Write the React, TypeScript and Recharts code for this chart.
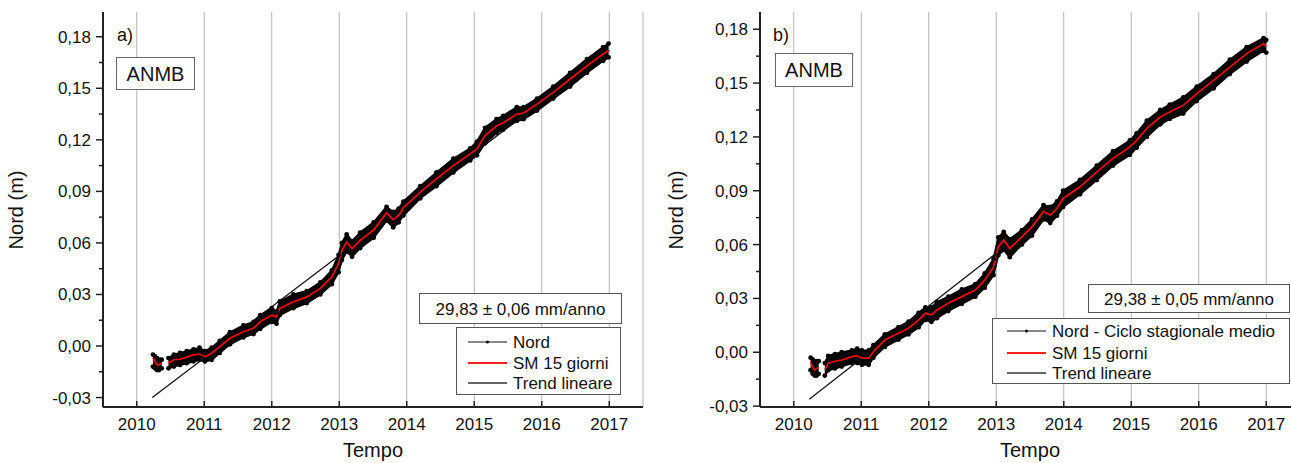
import { ComposedChart, Line, Area, Scatter, XAxis, YAxis, CartesianGrid } from 'recharts'

const yearTicks = [2010, 2011, 2012, 2013, 2014, 2015, 2016, 2017]
const valueTicks = [-0.03, -0.015, 0, 0.015, 0.03, 0.045, 0.06, 0.075, 0.09, 0.105, 0.12, 0.135, 0.15, 0.165, 0.18]

// panel a) - Nord
const yearsA = [2010.24, 2010.27, 2010.30, 2010.33, 2010.37, 2010.42, 2010.47, 2010.55, 2010.64, 2010.74, 2010.84, 2010.93, 2011.01, 2011.11, 2011.23, 2011.38, 2011.58, 2011.73, 2011.83, 2012.00, 2012.07, 2012.12, 2012.32, 2012.52, 2012.72, 2012.89, 2012.99, 2013.04, 2013.11, 2013.19, 2013.31, 2013.51, 2013.70, 2013.80, 2013.88, 2013.95, 2014.20, 2014.44, 2014.69, 2014.94, 2015.04, 2015.16, 2015.33, 2015.43, 2015.63, 2015.73, 2015.93, 2016.17, 2016.42, 2016.67, 2016.91, 2016.99]
const smA = [-0.007, -0.009, -0.011, -0.011, -0.010, null, -0.010, -0.008, -0.0077, -0.0065, -0.0052, -0.0047, -0.0062, -0.0042, -0.0004, 0.0045, 0.0083, 0.0103, 0.0141, 0.018, 0.017, 0.0219, 0.0257, 0.0286, 0.0335, 0.0402, 0.048, 0.0557, 0.0605, 0.0567, 0.0615, 0.0675, 0.0775, 0.0735, 0.076, 0.0805, 0.0896, 0.0973, 0.105, 0.1118, 0.1147, 0.1225, 0.128, 0.130, 0.135, 0.1356, 0.1408, 0.1476, 0.1554, 0.163, 0.170, 0.1718]
const loA = [-0.012, -0.013, -0.014, -0.014, -0.013, null, -0.013, -0.012, -0.011, -0.010, -0.009, -0.008, -0.009, -0.008, -0.004, 0.001, 0.005, 0.007, 0.010, 0.014, 0.013, 0.018, 0.022, 0.025, 0.030, 0.036, 0.043, 0.050, 0.055, 0.052, 0.057, 0.063, 0.073, 0.069, 0.072, 0.076, 0.086, 0.093, 0.101, 0.108, 0.111, 0.118, 0.124, 0.126, 0.131, 0.132, 0.137, 0.144, 0.151, 0.159, 0.166, 0.168]
const hiA = [-0.005, -0.006, -0.007, -0.008, -0.008, null, -0.007, -0.005, -0.004, -0.003, -0.002, -0.001, -0.003, -0.001, 0.003, 0.008, 0.012, 0.014, 0.018, 0.022, 0.020, 0.026, 0.030, 0.032, 0.037, 0.044, 0.053, 0.060, 0.065, 0.061, 0.066, 0.072, 0.081, 0.078, 0.080, 0.084, 0.093, 0.101, 0.109, 0.115, 0.119, 0.127, 0.132, 0.134, 0.139, 0.139, 0.144, 0.151, 0.159, 0.167, 0.174, 0.176]
const trendYearsA = [2010.23, 2017.0]
const trendA = [-0.030, 0.172]

// panel b) - Nord - ciclo stagionale medio
const yearsB = [2010.25, 2010.28, 2010.31, 2010.34, 2010.37, 2010.42, 2010.46, 2010.51, 2010.61, 2010.71, 2010.86, 2010.94, 2011.01, 2011.11, 2011.18, 2011.35, 2011.55, 2011.70, 2011.85, 2011.95, 2012.04, 2012.12, 2012.29, 2012.49, 2012.69, 2012.83, 2012.96, 2013.03, 2013.11, 2013.20, 2013.38, 2013.53, 2013.70, 2013.80, 2013.90, 2013.99, 2014.24, 2014.49, 2014.73, 2014.98, 2015.08, 2015.23, 2015.43, 2015.57, 2015.77, 2015.97, 2016.22, 2016.46, 2016.71, 2016.96, 2017.00]
const smB = [-0.0055, -0.0085, -0.0098, -0.009, -0.0085, null, -0.0098, -0.0061, -0.005, -0.0043, -0.0024, -0.002, -0.0033, -0.0033, 0.0003, 0.0068, 0.0106, 0.0134, 0.018, 0.0217, 0.0208, 0.0235, 0.0273, 0.031, 0.0347, 0.0402, 0.0476, 0.0588, 0.0625, 0.0579, 0.0643, 0.0699, 0.0785, 0.0764, 0.0801, 0.0857, 0.0922, 0.1005, 0.108, 0.1144, 0.1181, 0.1247, 0.1311, 0.1339, 0.1376, 0.1441, 0.1515, 0.1589, 0.1664, 0.172, 0.1705]
const loB = [-0.010, -0.012, -0.013, -0.013, -0.012, null, -0.013, -0.010, -0.009, -0.008, -0.006, -0.006, -0.007, -0.007, -0.003, 0.003, 0.007, 0.010, 0.014, 0.018, 0.017, 0.019, 0.023, 0.027, 0.031, 0.036, 0.043, 0.054, 0.057, 0.053, 0.060, 0.065, 0.074, 0.072, 0.076, 0.081, 0.088, 0.096, 0.104, 0.110, 0.114, 0.120, 0.127, 0.130, 0.133, 0.140, 0.147, 0.155, 0.162, 0.168, 0.167]
const hiB = [-0.003, -0.004, -0.006, -0.005, -0.005, null, -0.006, -0.002, -0.001, 0.000, 0.001, 0.002, 0.001, 0.001, 0.004, 0.010, 0.014, 0.017, 0.022, 0.025, 0.025, 0.028, 0.031, 0.035, 0.038, 0.044, 0.052, 0.064, 0.067, 0.063, 0.068, 0.074, 0.082, 0.081, 0.084, 0.090, 0.096, 0.104, 0.112, 0.118, 0.122, 0.129, 0.135, 0.138, 0.142, 0.148, 0.155, 0.163, 0.170, 0.175, 0.174]
const trendYearsB = [2010.23, 2017.0]
const trendB = [-0.0262, 0.1727]

const fmt = (v: number) => v.toFixed(2).replace('.', ',')
const FONT = '"Liberation Sans", Arial, sans-serif'
const AXIS = '#222'

function LeftTick(props: any) {
  const { x, y, payload } = props
  const v = payload.value
  const major = Math.round(v * 1000) % 30 === 0
  return (
    <g>
      <line x1={x - (major ? 7 : 4)} x2={x} y1={y} y2={y} stroke={AXIS} strokeWidth={1.5} />
      {major && (
        <text x={x - 12} y={y + 6} textAnchor="end" fontSize={17} fontFamily={FONT} fill="#111">
          {fmt(v)}
        </text>
      )}
    </g>
  )
}

function BottomTick(props: any) {
  const { x, y, payload } = props
  return (
    <g>
      <line x1={x} x2={x} y1={y - 6} y2={y} stroke={AXIS} strokeWidth={1.5} />
      <text x={x} y={y + 23} textAnchor="middle" fontSize={17} fontFamily={FONT} fill="#111">
        {payload.value}
      </text>
    </g>
  )
}

interface PanelProps {
  left: number
  width: number
  yAxisWidth: number
  marginRight: number
  yDomain: [number, number]
  years: number[]
  sm: (number | null)[]
  lo: (number | null)[]
  hi: (number | null)[]
  trendYears: number[]
  trend: number[]
}

function Panel(p: PanelProps) {
  const rows = p.years.map((year, i) => ({
    year,
    sm: p.sm[i],
    band: p.lo[i] == null ? null : [p.lo[i], p.hi[i]],
  }))
  // the black scatter edges of the daily series
  const edgePoints = p.years.flatMap((year, i) =>
    p.lo[i] == null ? [] : [{ year, v: p.lo[i] }, { year, v: p.hi[i] }]
  )
  const trendRows = p.trendYears.map((year, i) => ({ year, trend: p.trend[i] }))
  const xDomain: [number, number] = [2009.5, 2017.5]

  return (
    <div style={{ position: 'absolute', left: p.left, top: 0 }}>
      <ComposedChart width={p.width} height={463} data={rows} margin={{ top: 12, right: p.marginRight, bottom: 0, left: 0 }}>
        <CartesianGrid horizontal={false} stroke="#b4b4b4" strokeWidth={1} />
        <XAxis
          dataKey="year"
          type="number"
          domain={xDomain}
          ticks={yearTicks}
          interval={0}
          allowDataOverflow
          height={56}
          tickSize={0}
          tickMargin={0}
          tickLine={false}
          axisLine={{ stroke: AXIS, strokeWidth: 2 }}
          tick={BottomTick}
        />
        <XAxis
          xAxisId="top"
          orientation="top"
          type="number"
          domain={xDomain}
          ticks={yearTicks}
          interval={0}
          allowDataOverflow
          height={0}
          mirror
          tickSize={6}
          tickFormatter={() => ''}
          tickLine={{ stroke: AXIS, strokeWidth: 1.5 }}
          axisLine={{ stroke: AXIS, strokeWidth: 2 }}
        />
        <YAxis
          type="number"
          domain={p.yDomain}
          ticks={valueTicks}
          interval={0}
          allowDataOverflow
          width={p.yAxisWidth}
          tickSize={0}
          tickMargin={0}
          tickLine={false}
          axisLine={{ stroke: AXIS, strokeWidth: 2 }}
          tick={LeftTick}
        />
        <YAxis
          yAxisId="right"
          orientation="right"
          type="number"
          domain={p.yDomain}
          ticks={valueTicks}
          interval={0}
          allowDataOverflow
          width={0}
          mirror
          tickSize={5}
          tickFormatter={() => ''}
          tickLine={{ stroke: AXIS, strokeWidth: 1.5 }}
          axisLine={{ stroke: AXIS, strokeWidth: 2 }}
        />
        <Line data={trendRows} dataKey="trend" stroke="#111" strokeWidth={1.3} dot={false} isAnimationActive={false} />
        <Area dataKey="band" stroke="#000" strokeWidth={2} fill="#000" fillOpacity={1} isAnimationActive={false} />
        <Scatter data={edgePoints} dataKey="v" fill="#000" shape={(s: any) => <circle cx={s.cx} cy={s.cy} r={2.4} fill="#000" />} isAnimationActive={false} />
        <Line dataKey="sm" stroke="#ff0000" strokeWidth={1.7} dot={false} isAnimationActive={false} />
      </ComposedChart>
    </div>
  )
}

function LegendRows({ x, ys, texts }: { x: number; ys: number[]; texts: string[] }) {
  return (
    <g fontFamily={FONT} fontSize={17} fill="#111">
      <line x1={x} x2={x + 39} y1={ys[0]} y2={ys[0]} stroke="#111" strokeWidth={1} />
      <circle cx={x + 19.5} cy={ys[0]} r={1.6} fill="#111" />
      <line x1={x} x2={x + 39} y1={ys[1]} y2={ys[1]} stroke="#ff2020" strokeWidth={2} />
      <line x1={x} x2={x + 39} y1={ys[2]} y2={ys[2]} stroke="#333" strokeWidth={1.6} />
      {texts.map((t, i) => (
        <text key={t} x={x + 45} y={ys[i] + 6}>{t}</text>
      ))}
    </g>
  )
}

export default function App() {
  return (
    <div style={{ position: 'absolute', left: 0, top: 0, width: 1291, height: 463, overflow: 'hidden', background: '#fff', fontFamily: FONT }}>
      <Panel left={0} width={660} yAxisWidth={103} marginRight={17} yDomain={[-0.0355, 0.1944]}
        years={yearsA} sm={smA} lo={loA} hi={hiA} trendYears={trendYearsA} trend={trendA} />
      <Panel left={680} width={640} yAxisWidth={80} marginRight={20} yDomain={[-0.0305, 0.1896]}
        years={yearsB} sm={smB} lo={loB} hi={hiB} trendYears={trendYearsB} trend={trendB} />

      <svg width={1291} height={463} style={{ position: 'absolute', left: 0, top: 0, pointerEvents: 'none' }}>
        <g fontFamily={FONT} fill="#111">
          {/* panel a */}
          <text x={117} y={41} fontSize={18}>a)</text>
          <rect x={116.5} y={57.5} width={78} height={32} fill="#fff" stroke="#666" />
          <text x={155.5} y={80.5} fontSize={20} textAnchor="middle">ANMB</text>
          <text transform="translate(23,210) rotate(-90)" fontSize={20} textAnchor="middle">Nord (m)</text>
          <text x={373} y={457} fontSize={20} textAnchor="middle">Tempo</text>
          <rect x={419.5} y={293.5} width={202} height={30} fill="#fff" stroke="#555" />
          <text x={520.5} y={315} fontSize={17} textAnchor="middle">29,83 ± 0,06 mm/anno</text>
          <rect x={456.5} y={327.5} width={164} height={67} fill="#fff" stroke="#555" />

          {/* panel b */}
          <text x={773} y={41} fontSize={18}>b)</text>
          <rect x={775.5} y={53.5} width={77} height={33} fill="#fff" stroke="#666" />
          <text x={814} y={77} fontSize={20} textAnchor="middle">ANMB</text>
          <text transform="translate(683,210) rotate(-90)" fontSize={20} textAnchor="middle">Nord (m)</text>
          <text x={1030} y={457} fontSize={20} textAnchor="middle">Tempo</text>
          <rect x={1088.5} y={284.5} width={201} height={28} fill="#fff" stroke="#555" />
          <text x={1189} y={305} fontSize={17} textAnchor="middle">29,38 ± 0,05 mm/anno</text>
          <rect x={992.5} y={318.5} width={297} height={65} fill="#fff" stroke="#555" />
        </g>
        <LegendRows x={468} ys={[342, 363, 383]} texts={['Nord', 'SM 15 giorni', 'Trend lineare']} />
        <LegendRows x={1007} ys={[331, 353, 373]} texts={['Nord - Ciclo stagionale medio', 'SM 15 giorni', 'Trend lineare']} />
      </svg>
    </div>
  )
}
